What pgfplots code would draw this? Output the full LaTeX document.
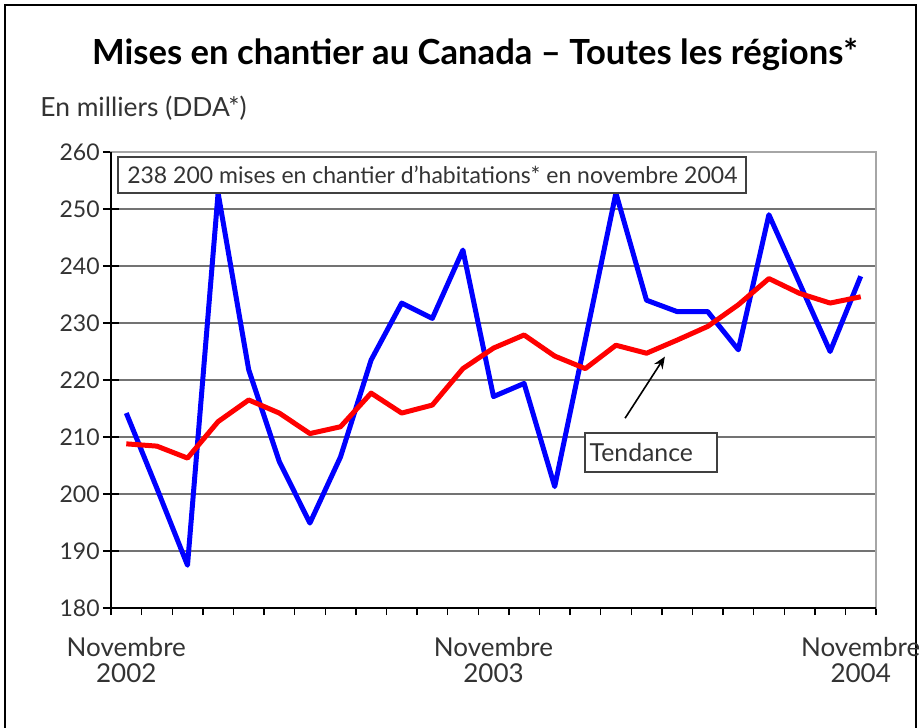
\documentclass[border=0pt]{standalone}
\usepackage{fontspec}
\setmainfont{Lato}
\usepackage{pgfplots}
\usepackage{pgfplotstable}
\pgfplotsset{compat=1.18}
\usetikzlibrary{arrows.meta}
\pgfplotstableread{
i blue red
0 214.2 208.8
1 201.0 208.4
2 187.5 206.3
3 252.8 212.7
4 221.8 216.5
5 205.7 214.2
6 194.9 210.6
7 206.5 211.8
8 223.5 217.7
9 233.5 214.2
10 230.8 215.6
11 242.8 222.0
12 217.1 225.6
13 219.4 227.9
14 201.3 224.2
15 227.0 222.0
16 252.8 226.1
17 234.0 224.7
18 232.0 227.0
19 232.0 229.4
20 225.3 233.2
21 249.0 237.8
22 237.0 235.2
23 225.0 233.5
24 238.2 234.6
}\datatable
\begin{document}
\begin{tikzpicture}
\useasboundingbox (-55.5pt,-59.5pt) rectangle (404pt,304pt);
\draw[line width=1pt] (-53pt,-60pt) -- (-53pt,301.5pt) -- (402.5pt,301.5pt) -- (402.5pt,-60pt);
\node[font=\fontsize{17.3}{20}\selectfont\bfseries] at (182pt,276.5pt) {Mises en chantier au Canada -- Toutes les régions*};
\node[anchor=west,font=\fontsize{13.2}{14}\selectfont,text=black!80,inner sep=0pt] at (-35.5pt,250pt) {En milliers (DDA*)};
\begin{axis}[
  at={(0pt,0pt)}, anchor=south west,
  scale only axis, width=382.5pt, height=228pt,
  xmin=-0.5, xmax=24.5, ymin=180, ymax=260,
  ytick={180,190,...,260},
  ymajorgrids, grid style={black!55, line width=0.8pt},
  xtick={-0.5,0.5,...,24.5}, xticklabels={},
  extra x ticks={0,12,24},
  extra x tick labels={{Novembre\\2002},{Novembre\\2003},{Novembre\\2004}},
  extra x tick style={xtick style={draw=none}, grid=none,
     tick label style={align=center, font=\fontsize{13}{13}\selectfont, text=black!80, yshift=-7pt}},
  xtick align=outside, ytick align=center,
  tick pos=left,
  xtick style={black, line width=0.7pt, /pgfplots/major tick length=3.5pt},
  ytick style={black, line width=0.7pt, /pgfplots/major tick length=8pt},
  axis line style={black!35, line width=0.8pt},
  yticklabel style={font=\fontsize{11.5}{12}\selectfont, text=black!80},
  /pgf/number format/assume math mode=true,
  clip=false,
]
\addplot[blue, line width=2.5pt, line join=round] table[x=i, y=blue] {\datatable};
\addplot[red, line width=2.5pt, line join=round] table[x=i, y=red] {\datatable};
\draw[black, line width=1pt] (axis cs:-0.5,260) -- (axis cs:-0.5,180) -- (axis cs:24.5,180);
\draw[black!75, line width=0.8pt, fill=white] (axis cs:-0.27,259.1) rectangle (axis cs:20.25,252.8);
\node[anchor=west, font=\fontsize{11.5}{12}\selectfont, text=black!80, inner sep=0pt] at (axis cs:0.02,255.95) {238 200 mises en chantier d'habitations* en novembre 2004};
\draw[black!75, line width=0.8pt, fill=white] (axis cs:14.99,210.7) rectangle (axis cs:19.30,203.86);
\node[anchor=west, font=\fontsize{12.4}{13}\selectfont, text=black!80, inner sep=0pt] at (axis cs:15.13,207.3) {Tendance};
\draw[-{Stealth[length=6pt,width=5pt]}, black, line width=0.8pt] (axis cs:16.3,213.3) -- (axis cs:17.6,224.1);
\end{axis}
\end{tikzpicture}
\end{document}
